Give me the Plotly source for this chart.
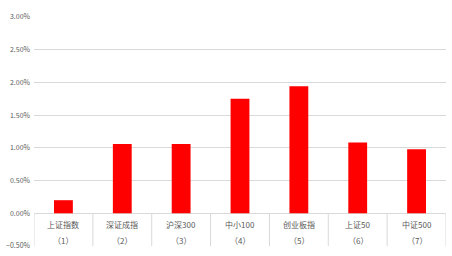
import plotly.graph_objects as go

names = ["上证指数", "深证成指", "沪深300", "中小100", "创业板指", "上证50", "中证500"]
numbers = ["（1）", "（2）", "（3）", "（4）", "（5）", "（6）", "（7）"]
values = [0.0020, 0.0106, 0.0106, 0.0175, 0.0194, 0.0108, 0.0098]

x = list(range(len(names)))
font = "Noto Sans CJK SC, Noto Sans, sans-serif"
gray = "#595959"
grid = "#d9d9d9"

fig = go.Figure(go.Bar(x=x, y=values, marker_color="#ff0000", width=0.32,
                       marker_line_width=0))

ann = []
for i in x:
    ann.append(dict(x=i, y=-0.00165, xref="x", yref="y", text=names[i], showarrow=False,
                    font=dict(size=8, color=gray, family=font)))
    ann.append(dict(x=i, y=-0.0041, xref="x", yref="y", text=numbers[i], showarrow=False,
                    font=dict(size=8, color=gray, family=font)))

shapes = []
for i in range(len(names) + 1):
    shapes.append(dict(type="line", xref="x", yref="y", x0=i - 0.5, x1=i - 0.5,
                       y0=0, y1=-0.005, line=dict(color=grid, width=1), layer="below"))

fig.update_layout(
    width=452, height=256,
    margin=dict(l=30, r=6, t=17, b=10),
    plot_bgcolor="white", paper_bgcolor="white",
    showlegend=False,
    annotations=ann, shapes=shapes,
    xaxis=dict(range=[-0.5, 6.5], showticklabels=False, showgrid=False,
               zeroline=False, showline=False, ticks=""),
    yaxis=dict(range=[-0.005, 0.03], dtick=0.005, tick0=0, tickformat=".2%",
               showgrid=True, gridcolor=grid, gridwidth=1, zeroline=True,
               zerolinecolor=grid, zerolinewidth=1, showline=False,
               tickfont=dict(size=7, color=gray, family=font), ticks="",
               ticklabelstandoff=3),
)

fig.write_html("out.html")
